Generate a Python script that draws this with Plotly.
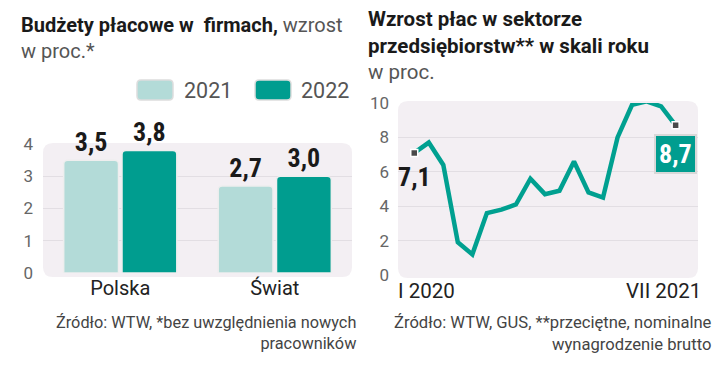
import plotly.graph_objects as go

# ---- data ----
regions = ["Polska", "Świat"]
years = ["2021", "2022"]
budget_2021 = [3.5, 2.7]
budget_2022 = [3.8, 3.0]
budget_labels_2021 = ["3,5", "2,7"]
budget_labels_2022 = ["3,8", "3,0"]

months = list(range(19))  # I 2020 ... VII 2021
wage_growth = [7.1, 7.7, 6.4, 1.9, 1.2, 3.6, 3.8, 4.1, 5.6, 4.7, 4.9, 6.6,
               4.8, 4.5, 8.0, 9.9, 10.1, 9.8, 8.7]
month_labels = ["I 2020", "VII 2021"]
first_label = "7,1"
last_label = "8,7"

# ---- styling ----
W, H = 720, 367
C21 = "#b3dbd8"
C22 = "#009d8f"
BG = "#f3eff3"
FONT = "Roboto, Liberation Sans, sans-serif"
NARROW = "Liberation Sans Narrow, Roboto Condensed, Roboto, sans-serif"


def px(x):
    return x / W


def py(y):
    return 1 - y / H


def rrect(x0, y0, x1, y1, r=10):
    rx, ry = r / W, r / H
    X0, X1 = px(x0), px(x1)
    Y0, Y1 = py(y1), py(y0)  # bottom, top
    return (f"M {X0+rx},{Y1} L {X1-rx},{Y1} Q {X1},{Y1} {X1},{Y1-ry} "
            f"L {X1},{Y0+ry} Q {X1},{Y0} {X1-rx},{Y0} L {X0+rx},{Y0} "
            f"Q {X0},{Y0} {X0},{Y0+ry} L {X0},{Y1-ry} Q {X0},{Y1} {X0+rx},{Y1} Z")


fig = go.Figure()

fig.add_trace(go.Bar(
    x=regions, y=budget_2021, name=years[0], marker_color=C21,
    marker_line=dict(color="#eeeeee", width=1.5),
    text=budget_labels_2021, textposition="outside", cliponaxis=False,
    textfont=dict(family=NARROW, size=26, color="#1a1a1a", weight="bold"),
    xaxis="x", yaxis="y", showlegend=False))
fig.add_trace(go.Bar(
    x=regions, y=budget_2022, name=years[1], marker_color=C22,
    marker_line=dict(color="#eeeeee", width=1.5),
    text=budget_labels_2022, textposition="outside", cliponaxis=False,
    textfont=dict(family=NARROW, size=26, color="#1a1a1a", weight="bold"),
    xaxis="x", yaxis="y", showlegend=False))

fig.add_trace(go.Scatter(
    x=months, y=wage_growth, mode="lines", line=dict(color="#00a090", width=4.5),
    cliponaxis=False, xaxis="x2", yaxis="y2", showlegend=False))
fig.add_trace(go.Scatter(
    x=[months[0], months[-1]], y=[wage_growth[0], wage_growth[-1]], mode="markers",
    marker=dict(symbol="square", size=7, color="#4a4a4a",
                line=dict(color="#ffffff", width=1.5)),
    cliponaxis=False, xaxis="x2", yaxis="y2", showlegend=False))

tickfont = dict(family=FONT, size=17, color="#666666")

fig.update_layout(
    width=W, height=H, margin=dict(l=0, r=0, t=0, b=0),
    paper_bgcolor="white", plot_bgcolor="rgba(0,0,0,0)",
    barmode="group", bargap=0.245, bargroupgap=0.06, barcornerradius=4,
    xaxis=dict(domain=[px(43), px(352)], range=[-0.5, 1.5], showgrid=False,
               zeroline=False, showline=False, ticks="", automargin=False,
               tickfont=dict(family=FONT, size=20, color="#222222"),
               ticklabelstandoff=1, anchor="y"),
    yaxis=dict(domain=[py(273), py(144)], range=[0, 4], tickvals=[0, 1, 2, 3, 4],
               showgrid=True, gridcolor="#e2dee3", gridwidth=1, zeroline=False,
               automargin=False,
               tickfont=tickfont, ticklabelstandoff=9, anchor="x"),
    xaxis2=dict(domain=[px(398), px(698)], range=[-1.12, 19.54], showgrid=False,
                zeroline=False, showticklabels=False, automargin=False, anchor="y2"),
    yaxis2=dict(domain=[py(275), py(103)], range=[0, 10], tickvals=[0, 2, 4, 6, 8, 10],
                showgrid=True, gridcolor="#e2dee3", gridwidth=1, zeroline=False,
                automargin=False,
                tickfont=tickfont, ticklabelstandoff=8, anchor="x2"),
    shapes=[
        dict(type="path", xref="paper", yref="paper", path=rrect(43, 143, 352, 277),
             fillcolor=BG, line=dict(width=0), layer="below"),
        dict(type="path", xref="paper", yref="paper", path=rrect(398, 101, 698, 278),
             fillcolor=BG, line=dict(width=0), layer="below"),
        dict(type="path", xref="paper", yref="paper", path=rrect(137, 80, 173, 100, 4),
             fillcolor=C21, line=dict(color="#dddddd", width=1.5)),
        dict(type="path", xref="paper", yref="paper", path=rrect(255, 80, 291, 100, 4),
             fillcolor=C22, line=dict(color="#dddddd", width=1.5)),
    ],
)

ann = []


def line_text(x, y, text, size=20, color="#1a1a1a", anchor="left"):
    ann.append(dict(xref="paper", yref="paper", x=px(x), y=py(y), xanchor=anchor,
                    yanchor="middle", align="left", showarrow=False, text=text,
                    font=dict(family=FONT, size=size, color=color)))


# titles
line_text(19, 38, "<b>Budżety płacowe w  firmach,</b> <span style='color:#555'>wzrost</span>"
                  "<br><span style='color:#555'>w proc.*</span>")
line_text(366, 46, "<b>Wzrost płac w sektorze<br>przedsiębiorstw** w skali roku</b>"
                   "<br><span style='color:#555'>w proc.</span>", size=20.5)
# legend labels
line_text(182, 90, years[0], size=21.5, color="#555555")
line_text(299, 90, years[1], size=21.5, color="#555555")
# line chart x labels
line_text(396, 291, month_labels[0], size=20.5, color="#222222")
line_text(703, 291, month_labels[1], size=20.5, color="#222222", anchor="right")
# value labels on line
ann.append(dict(xref="x2", yref="y2", x=months[0], y=wage_growth[0], showarrow=False,
                yshift=-24, text=f"<b>{first_label}</b>",
                font=dict(family=NARROW, size=26, color="#1a1a1a")))
ann.append(dict(xref="x2", yref="y2", x=months[-1], y=wage_growth[-1], showarrow=False,
                yshift=-29, text=f"<b>{last_label}</b>", bgcolor=C22, bordercolor="#d8d8d8",
                borderwidth=2, borderpad=3,
                font=dict(family=NARROW, size=26, color="#ffffff")))
# footnotes
ann.append(dict(xref="paper", yref="paper", x=px(358), y=py(311), xanchor="right", yanchor="top",
                align="right", showarrow=False,
                text="Źródło: WTW, *bez uwzględnienia nowych<br>pracowników",
                font=dict(family=FONT, size=16.3, color="#444444")))
ann.append(dict(xref="paper", yref="paper", x=px(714), y=py(311), xanchor="right", yanchor="top",
                align="right", showarrow=False,
                text="Źródło: WTW, GUS, **przeciętne, nominalne<br>wynagrodzenie brutto",
                font=dict(family=FONT, size=16.6, color="#444444")))
fig.update_layout(annotations=ann)

fig.write_html("out.html", config={"displayModeBar": False},
               post_script="document.body.style.margin='0';")
